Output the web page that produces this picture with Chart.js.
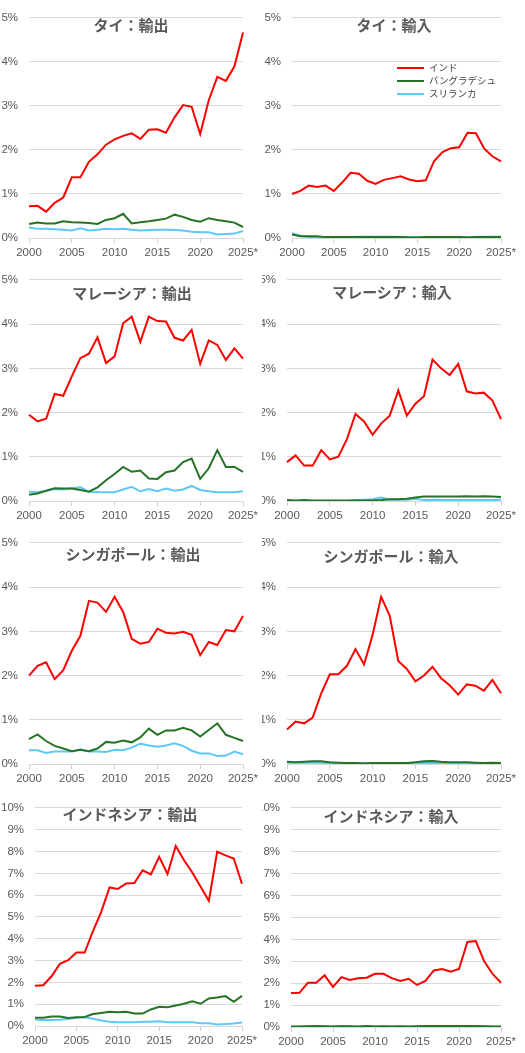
<!DOCTYPE html>
<html lang="ja">
<head>
<meta charset="utf-8">
<title>インド・バングラデシュ・スリランカのシェア</title>
<script src="https://cdn.jsdelivr.net/npm/chart.js@4.4.1/dist/chart.umd.min.js"></script>
<style>
  html, body { margin: 0; padding: 0; background: #fff; }
  #wrap { position: relative; width: 525px; height: 1053px; overflow: hidden; }
  canvas { position: absolute; }
  .ttl {
    position: absolute; transform: translate(-50%, -50%);
    font: bold 15px "Noto Sans CJK JP", sans-serif; color: #595959; white-space: nowrap;
  }
  #legend { position: absolute; left: 397px; top: 61px; font: 9.5px "Noto Sans CJK JP", sans-serif; color: #404040; }
  #legend div { height: 13px; line-height: 13px; white-space: nowrap; }
  #legend span { display: inline-block; width: 27px; height: 2px; vertical-align: middle; margin-right: 5px; }
</style>
</head>
<body>
<div id="wrap"></div>
<script>
// years on the x axis (2025 is an estimate)
const years = ["2000","2001","2002","2003","2004","2005","2006","2007","2008","2009","2010","2011","2012",
               "2013","2014","2015","2016","2017","2018","2019","2020","2021","2022","2023","2024","2025*"];

const seriesNames = ["インド", "バングラデシュ", "スリランカ"];
const seriesColors = ["#ff0000", "#267326", "#5ec8f7"];

// share in %
// Thailand
const thExpInd = [0.72,0.73,0.60,0.80,0.92,1.38,1.38,1.73,1.90,2.12,2.24,2.32,2.38,2.25,2.46,2.47,2.39,2.74,3.02,2.98,2.36,3.13,3.66,3.57,3.90,4.67];
const thExpBgd = [0.32,0.35,0.33,0.33,0.38,0.36,0.35,0.34,0.32,0.41,0.45,0.55,0.33,0.36,0.38,0.41,0.44,0.53,0.48,0.41,0.37,0.45,0.41,0.38,0.35,0.25];
const thExpLka = [0.24,0.21,0.21,0.20,0.19,0.17,0.22,0.17,0.19,0.21,0.20,0.21,0.19,0.17,0.18,0.19,0.19,0.18,0.17,0.14,0.13,0.13,0.08,0.09,0.10,0.16];
const thImpInd = [1.00,1.07,1.19,1.16,1.19,1.07,1.26,1.48,1.46,1.30,1.23,1.32,1.36,1.40,1.33,1.29,1.31,1.75,1.95,2.04,2.06,2.39,2.38,2.03,1.85,1.74];
const thImpBgd = [0.08,0.04,0.04,0.04,0.02,0.02,0.02,0.02,0.02,0.02,0.02,0.02,0.02,0.02,0.01,0.01,0.02,0.02,0.02,0.02,0.02,0.01,0.02,0.02,0.02,0.02];
const thImpLka = [0.11,0.05,0.02,0.02,0.02,0.02,0.02,0.02,0.03,0.03,0.03,0.03,0.03,0.02,0.02,0.02,0.02,0.02,0.02,0.02,0.02,0.02,0.02,0.03,0.03,0.03];
// Malaysia
const myExpInd = [1.95,1.80,1.86,2.42,2.38,2.82,3.23,3.33,3.70,3.12,3.27,4.02,4.17,3.60,4.17,4.07,4.06,3.69,3.63,3.87,3.10,3.63,3.53,3.19,3.45,3.22];
const myExpBgd = [0.14,0.17,0.23,0.29,0.28,0.28,0.25,0.21,0.31,0.47,0.61,0.77,0.66,0.69,0.51,0.50,0.65,0.69,0.88,0.96,0.50,0.74,1.15,0.77,0.77,0.66];
const myExpLka = [0.21,0.20,0.23,0.27,0.26,0.29,0.31,0.21,0.20,0.20,0.20,0.26,0.32,0.22,0.27,0.22,0.28,0.23,0.26,0.34,0.25,0.22,0.20,0.20,0.20,0.22];
const myImpInd = [0.88,1.03,0.80,0.80,1.15,0.94,1.00,1.40,1.97,1.80,1.50,1.75,1.93,2.50,1.93,2.20,2.37,3.20,3.00,2.85,3.10,2.48,2.43,2.45,2.27,1.85];
const myImpBgd = [0.02,0.01,0.02,0.01,0.01,0.01,0.01,0.01,0.01,0.01,0.01,0.02,0.04,0.04,0.05,0.08,0.10,0.10,0.10,0.10,0.10,0.11,0.10,0.11,0.10,0.09];
const myImpLka = [0.00,0.00,0.00,0.00,0.00,0.00,0.00,0.00,0.02,0.03,0.04,0.08,0.03,0.03,0.03,0.05,0.02,0.03,0.02,0.02,0.02,0.02,0.02,0.02,0.02,0.03];
// Singapore
const sgExpInd = [2.00,2.22,2.30,1.92,2.12,2.56,2.90,3.69,3.65,3.44,3.78,3.44,2.83,2.72,2.76,3.06,2.97,2.95,2.99,2.92,2.46,2.76,2.69,3.03,3.00,3.35];
const sgExpBgd = [0.56,0.67,0.52,0.41,0.35,0.29,0.32,0.29,0.35,0.50,0.48,0.53,0.49,0.60,0.80,0.66,0.76,0.76,0.82,0.76,0.62,0.77,0.92,0.66,0.59,0.52];
const sgExpLka = [0.31,0.31,0.25,0.28,0.28,0.28,0.33,0.28,0.28,0.27,0.32,0.31,0.37,0.46,0.42,0.39,0.42,0.47,0.41,0.30,0.24,0.24,0.18,0.19,0.28,0.22];
const sgImpInd = [0.78,0.96,0.92,1.05,1.60,2.03,2.03,2.22,2.60,2.25,2.92,3.78,3.35,2.33,2.15,1.87,2.00,2.20,1.94,1.78,1.57,1.80,1.77,1.66,1.90,1.60];
const sgImpBgd = [0.05,0.04,0.05,0.06,0.06,0.04,0.03,0.02,0.02,0.01,0.02,0.02,0.02,0.02,0.02,0.04,0.06,0.07,0.05,0.04,0.04,0.04,0.03,0.02,0.03,0.02];
const sgImpLka = [0.03,0.03,0.03,0.03,0.03,0.02,0.02,0.02,0.02,0.02,0.02,0.02,0.02,0.02,0.02,0.02,0.02,0.02,0.02,0.02,0.02,0.02,0.02,0.02,0.02,0.02];
// Indonesia
const idExpInd = [1.85,1.87,2.28,2.85,3.02,3.37,3.37,4.35,5.23,6.35,6.28,6.53,6.56,7.14,6.95,7.76,6.97,8.25,7.60,7.04,6.38,5.74,7.99,7.82,7.68,6.52];
const idExpBgd = [0.38,0.38,0.43,0.43,0.37,0.40,0.41,0.55,0.60,0.65,0.63,0.65,0.57,0.57,0.76,0.88,0.86,0.94,1.02,1.13,1.02,1.26,1.31,1.37,1.11,1.38];
const idExpLka = [0.30,0.28,0.27,0.29,0.32,0.38,0.40,0.33,0.25,0.19,0.17,0.17,0.17,0.19,0.20,0.22,0.17,0.17,0.17,0.17,0.13,0.13,0.07,0.09,0.12,0.16];
const idImpInd = [1.55,1.56,2.02,2.02,2.36,1.83,2.28,2.15,2.22,2.25,2.43,2.43,2.23,2.10,2.20,1.92,2.10,2.58,2.65,2.52,2.65,3.88,3.92,3.00,2.42,2.02];
const idImpBgd = [0.02,0.02,0.03,0.04,0.03,0.02,0.03,0.03,0.02,0.05,0.02,0.03,0.02,0.03,0.02,0.03,0.04,0.04,0.04,0.04,0.04,0.04,0.04,0.03,0.02,0.02];
const idImpLka = [0.01,0.01,0.01,0.01,0.01,0.02,0.05,0.02,0.01,0.04,0.02,0.02,0.02,0.02,0.01,0.02,0.02,0.02,0.02,0.02,0.02,0.02,0.02,0.01,0.01,0.01];

// panel placement: canvas box, plot insets, y max
const panels = [
  { title: "タイ：輸出",         data: [thExpInd, thExpBgd, thExpLka], x: 0,   y: 0,   w: 262, h: 262, top: 15, right: 19, yw: 29, xh: 24, max: 5,  tx: 131, ty: 24 },
  { title: "タイ：輸入",         data: [thImpInd, thImpBgd, thImpLka], x: 262, y: 0,   w: 263, h: 262, top: 15, right: 24, yw: 30, xh: 24, max: 5,  tx: 394, ty: 24 },
  { title: "マレーシア：輸出",   data: [myExpInd, myExpBgd, myExpLka], x: 0,   y: 262, w: 262, h: 263, top: 17, right: 19, yw: 29, xh: 24, max: 5,  tx: 132, ty: 292 },
  { title: "マレーシア：輸入",   data: [myImpInd, myImpBgd, myImpLka], x: 262, y: 262, w: 263, h: 263, top: 17, right: 24, yw: 25, xh: 24, max: 5,  tx: 392, ty: 291 },
  { title: "シンガポール：輸出", data: [sgExpInd, sgExpBgd, sgExpLka], x: 0,   y: 525, w: 262, h: 265, top: 15, right: 19, yw: 29, xh: 26, max: 5,  tx: 133, ty: 553 },
  { title: "シンガポール：輸入", data: [sgImpInd, sgImpBgd, sgImpLka], x: 262, y: 525, w: 263, h: 265, top: 17, right: 24, yw: 25, xh: 26, max: 5,  tx: 391, ty: 555 },
  { title: "インドネシア：輸出", data: [idExpInd, idExpBgd, idExpLka], x: 0,   y: 790, w: 262, h: 263, top: 12, right: 20, yw: 35, xh: 27, max: 10, tx: 130, ty: 813 },
  { title: "インドネシア：輸入", data: [idImpInd, idImpBgd, idImpLka], x: 262, y: 790, w: 263, h: 263, top: 13, right: 24, yw: 29, xh: 26, max: 10, tx: 391, ty: 815 }
];

Chart.defaults.font.family = "'Liberation Sans', Arial, sans-serif";
Chart.defaults.font.size = 11.5;
Chart.defaults.color = "#595959";

const wrap = document.getElementById("wrap");

panels.forEach(p => {
  const cv = document.createElement("canvas");
  cv.width = p.w; cv.height = p.h;
  cv.style.left = p.x + "px"; cv.style.top = p.y + "px";
  wrap.appendChild(cv);

  const t = document.createElement("div");
  t.className = "ttl";
  t.textContent = p.title;
  t.style.left = p.tx + "px"; t.style.top = p.ty + "px";
  wrap.appendChild(t);

  new Chart(cv.getContext("2d"), {
    type: "line",
    data: {
      labels: years,
      datasets: seriesNames.map((name, i) => ({
        label: name,
        data: p.data[i],
        borderColor: seriesColors[i],
        backgroundColor: seriesColors[i],
        borderWidth: 2,
        pointRadius: 0,
        tension: 0
      }))
    },
    options: {
      responsive: false,
      animation: false,
      events: [],
      layout: { padding: { top: p.top, right: p.right, left: 0, bottom: 0 } },
      plugins: { legend: { display: false }, tooltip: { enabled: false } },
      scales: {
        x: {
          grid: {
            drawOnChartArea: false,
            tickLength: 5,
            tickColor: ctx => ctx.index % 5 === 0 ? "#d0d0d0" : "rgba(0,0,0,0)"
          },
          border: { color: "#d9d9d9" },
          ticks: {
            autoSkip: false, maxRotation: 0, padding: 3,
            callback: (v, i) => i % 5 === 0 ? years[i] : ""
          },
          afterFit: s => { s.height = p.xh; }
        },
        y: {
          min: 0, max: p.max,
          grid: { color: "#d9d9d9", drawTicks: false },
          border: { display: false },
          ticks: { stepSize: 1, padding: 11, callback: v => v + "%" },
          afterFit: s => { s.width = p.yw; }
        }
      }
    }
  });
});

// legend in the Thai import panel
const lg = document.createElement("div");
lg.id = "legend";
seriesNames.forEach((name, i) => {
  const row = document.createElement("div");
  const sw = document.createElement("span");
  sw.style.background = seriesColors[i];
  row.appendChild(sw);
  row.appendChild(document.createTextNode(name));
  lg.appendChild(row);
});
wrap.appendChild(lg);
</script>
</body>
</html>
